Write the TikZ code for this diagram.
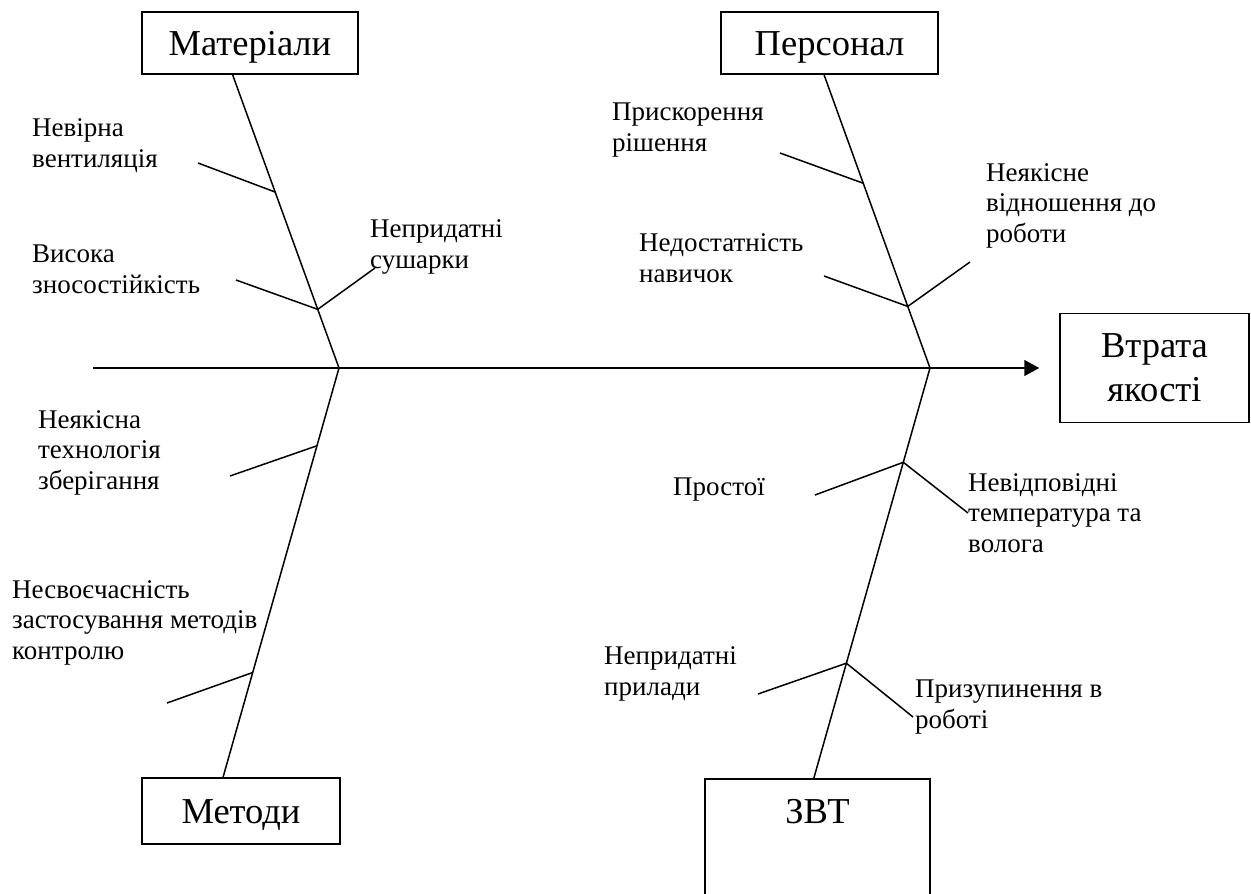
\documentclass[tikz,border=0pt]{standalone}
\usepackage{fontspec}
\setmainfont{Liberation Serif}
\usetikzlibrary{arrows.meta,calc}
\tikzset{
  catbox/.style={draw,line width=1.5pt,inner sep=0pt,font=\fontsize{36.5}{44}\selectfont,text height=24pt,text depth=0pt},
  cause/.style={anchor=base west,inner sep=0pt,align=left,font=\fontsize{27}{30.5}\selectfont},
  bone/.style={line width=1.5pt}
}
\begin{document}
\begin{tikzpicture}[x=1pt,y=-1pt]
  \useasboundingbox (0,0) rectangle (1251,894);
  % category boxes
  \node[catbox,minimum width=216pt,minimum height=62pt] (mat) at (250,43) {Матеріали};
  \node[catbox,minimum width=217pt,minimum height=62pt] (pers) at (829.5,43) {Персонал};
  \node[catbox,minimum width=198pt,minimum height=66pt] (meth) at (241,811) {Методи};
  \node[catbox,anchor=north,minimum width=225pt,inner ysep=21pt,text depth=150pt] (zvt) at (817.5,778) {ЗВТ};
  \node[draw,line width=1.5pt,inner sep=0pt,minimum width=189pt,minimum height=109pt,align=center,font=\fontsize{36.5}{44}\selectfont] (loss) at (1154.5,368) {Втрата\\якості};
  % main spine
  \coordinate (tail) at (93,368);
  \coordinate (jm) at (339,368);
  \coordinate (jp) at (930,368);
  \draw[bone,-{Triangle[length=15pt,width=16pt]}] (tail) -- ([xshift=-20pt]loss.west);
  % category spines
  \coordinate (mtop) at ($(mat.south west)!.42!(mat.south east)$);
  \coordinate (ptop) at ($(pers.south west)!.475!(pers.south east)$);
  \coordinate (mbot) at ($(meth.north west)!.41!(meth.north east)$);
  \coordinate (zbot) at ($(zvt.north west)!.484!(zvt.north east)$);
  \draw[bone] (mtop) -- (jm) -- (mbot);
  \draw[bone] (ptop) -- (jp) -- (zbot);
  % Матеріали (base = last line)
  \coordinate (vent) at (198,163);
  \coordinate (znos) at (236,280);
  \coordinate (sush) at (375,268);
  \draw[bone] (vent) -- ($(mtop)!.40!(jm)$);
  \draw[bone] (znos) -- ($(mtop)!.80!(jm)$) -- (sush);
  \node[cause] (lvent) at (32,167) {Невірна\\вентиляція};
  \node[cause] (lznos) at (32,293) {Висока\\зносостійкість};
  \node[cause] (lsush) at (370,268) {Непридатні\\сушарки};
  % Методи
  \coordinate (tech) at (230,476);
  \coordinate (kont) at (167,703);
  \draw[bone] (tech) -- ($(jm)!.19!(mbot)$);
  \draw[bone] (kont) -- ($(jm)!.744!(mbot)$);
  \node[cause] (ltech) at (38,489) {Неякісна\\технологія\\зберігання};
  \node[cause] (lkont) at (12,659) {Несвоєчасність\\застосування методів\\контролю};
  % Персонал
  \coordinate (prysk) at (780,153);
  \coordinate (navy) at (824,276);
  \coordinate (vidn) at (970,262);
  \draw[bone] (prysk) -- ($(ptop)!.37!(jp)$);
  \draw[bone] (navy) -- ($(ptop)!.79!(jp)$) -- (vidn);
  \node[cause] (lprysk) at (612,151) {Прискорення\\рішення};
  \node[cause] (lnavy) at (639,282) {Недостатність\\навичок};
  \node[cause] (lvidn) at (986,242) {Неякісне\\відношення до\\роботи};
  % ЗВТ
  \coordinate (prost) at (815,495);
  \coordinate (temp) at (968,513);
  \coordinate (pryl) at (758,694);
  \coordinate (pryz) at (913,717);
  \draw[bone] (prost) -- ($(jp)!.23!(zbot)$) -- (temp);
  \draw[bone] (pryl) -- ($(jp)!.72!(zbot)$) -- (pryz);
  \node[cause] (lprost) at (673,495) {Простої};
  \node[cause] (ltemp) at (968,552) {Невідповідні\\температура та\\волога};
  \node[cause] (lpryl) at (604,695) {Непридатні\\прилади};
  \node[cause] (lpryz) at (915,728) {Призупинення в\\роботі};
\end{tikzpicture}
\end{document}
